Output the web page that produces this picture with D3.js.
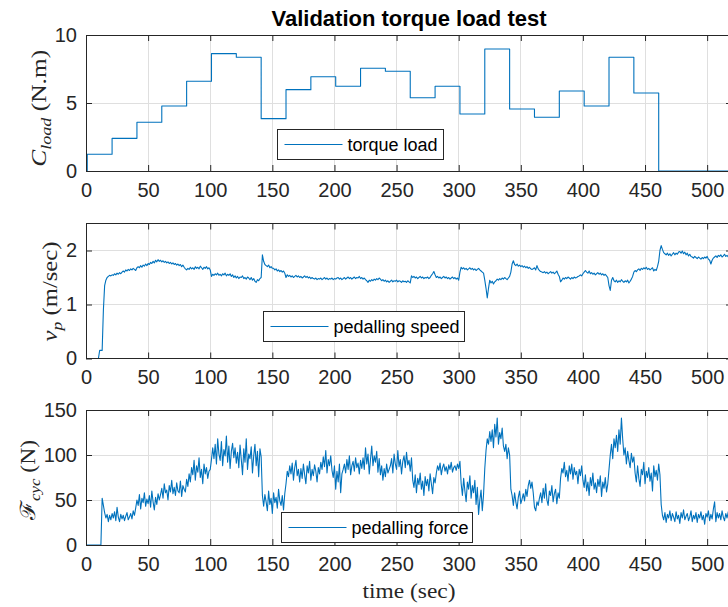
<!DOCTYPE html>
<html><head><meta charset="utf-8">
<script src="https://cdn.jsdelivr.net/npm/d3@7/dist/d3.min.js"></script>
<style>body{margin:0;background:#fff}svg{display:block}</style>
</head><body>
<svg id="chart" width="728" height="607"></svg>
<script>
// ---------------- data ----------------
const chartTitle = "Validation torque load test";
const xLabel = "time (sec)";
const xDomain = [0, 520];
const xTicks = [0, 50, 100, 150, 200, 250, 300, 350, 400, 450, 500];

const torqueTicks = [0, 5, 10];
const speedTicks = [0, 1, 2];
const forceTicks = [0, 50, 100, 150];

const torqueName = "torque load";
const speedName = "pedalling speed";
const forceName = "pedalling force";

// step changes of the load torque (time in s, value in N.m)
const torqueTimes = [0, 1, 21, 41, 61, 81, 101, 121, 141, 161, 181, 201, 221, 241, 261, 281, 301, 321, 341, 361, 381, 401, 421, 441, 461, 520];
const torqueValues = [0, 1.23, 2.4, 3.58, 4.78, 6.6, 8.63, 8.36, 3.85, 5.98, 6.93, 6.23, 7.55, 7.33, 5.39, 6.23, 4.19, 8.97, 4.56, 3.95, 5.88, 4.78, 8.36, 5.74, 0, 0];

// pedalling speed, one sample per second from t = 0
const speedStart = 0, speedStep = 1;
const speedValues = [
0,0,0,0,0,0,0,0,0,0,0,
0.15,0.15,0.15,
0.9,1.35,1.45,1.5,
1.52,1.54,1.53,1.55,1.54,1.57,1.55,1.58,1.56,1.59,1.57,1.6,
1.62,1.6,1.64,1.62,1.65,1.63,1.66,1.64,1.67,1.65,1.63,1.68,
1.7,1.68,1.72,1.69,1.73,1.71,1.75,1.72,
1.76,1.74,1.78,1.76,1.8,1.77,1.82,1.79,1.83,1.8,
1.82,1.79,1.81,1.78,1.8,1.77,1.79,1.76,1.78,1.75,
1.77,1.74,1.76,1.73,1.75,1.72,1.74,1.7,1.73,1.69,1.66,1.64,
1.67,1.65,1.69,1.66,1.68,1.65,1.7,1.67,1.69,1.66,1.71,1.68,1.65,1.69,1.67,1.7,1.66,1.68,
1.64,1.52,1.56,1.54,1.57,
1.55,1.58,1.54,1.56,1.53,1.57,1.55,1.58,1.53,1.56,1.54,1.57,1.52,1.55,
1.5,1.53,1.49,1.52,1.48,1.51,1.5,1.53,1.48,1.5,1.47,1.51,1.49,1.46,1.5,1.45,1.48,1.43,
1.41,1.46,1.44,1.48,1.5,
1.92,1.8,1.74,1.72,1.7,1.73,1.68,1.7,1.67,
1.67,1.64,1.66,1.62,1.64,1.61,1.63,1.6,1.62,1.58,
1.5,1.55,1.52,1.54,1.51,1.53,1.5,1.52,1.54,1.51,1.53,1.5,1.52,1.49,1.51,1.53,1.5,1.52,1.49,1.51,1.48,1.5,
1.48,1.47,1.49,1.46,1.48,1.47,1.49,1.46,1.48,1.5,1.47,1.49,1.46,1.48,1.47,1.49,1.46,1.48,1.47,1.49,1.5,1.47,1.49,1.46,1.48,1.5,1.47,
1.49,1.51,1.48,1.5,1.47,1.49,1.51,1.48,1.5,1.49,1.52,1.48,1.5,1.47,1.49,1.46,1.44,1.41,
1.45,1.43,1.46,1.44,1.47,1.45,1.48,1.46,1.49,1.47,1.44,1.46,1.43,1.45,1.42,1.44,1.41,1.43,1.45,1.42,1.44,1.43,1.45,1.42,1.44,
1.43,1.41,1.44,1.42,1.43,1.41,1.44,1.42,1.4,
1.53,1.5,1.52,1.49,1.51,1.48,1.5,1.52,1.49,1.51,1.48,1.5,1.49,1.51,1.48,1.5,1.54,1.57,
1.61,1.55,
1.5,1.52,1.49,1.51,1.48,1.5,1.52,1.49,1.51,1.48,1.5,1.47,1.49,1.51,1.48,1.5,1.47,1.49,
1.45,1.6,1.69,
1.66,1.68,1.65,1.67,1.64,1.66,1.68,1.65,1.67,1.64,1.66,1.63,1.65,1.67,1.64,1.62,1.6,
1.58,1.45,1.3,1.12,1.3,1.45,1.4,1.43,1.38,1.42,
1.44,1.47,1.45,1.48,1.46,1.49,1.47,1.5,1.48,1.46,1.49,1.52,1.6,
1.75,1.81,
1.74,1.72,1.75,1.71,1.73,1.7,1.72,1.69,1.71,1.68,1.7,1.67,1.69,1.66,1.65,
1.66,1.68,1.64,1.72,1.66,1.63,1.61,1.6,
1.59,1.61,1.58,1.6,1.57,1.59,1.61,1.58,1.6,1.57,1.59,1.62,1.56,1.52,
1.42,1.45,
1.49,1.47,1.5,1.48,1.51,1.49,1.47,1.5,1.48,1.51,1.49,1.5,1.52,1.53,
1.55,1.53,1.57,1.6,1.63,
1.6,1.58,1.62,1.57,1.59,1.56,1.58,1.55,1.57,1.59,1.56,1.58,1.55,1.57,1.54,1.56,1.53,1.5,
1.35,1.26,1.45,1.5,
1.44,1.42,1.45,1.41,1.44,1.42,1.46,1.43,1.41,1.44,1.42,1.45,1.4,1.43,1.47,1.52,
1.6,1.63,1.61,1.64,1.66,1.63,1.67,1.65,1.68,1.66,1.69,1.65,1.67,1.64,1.66,1.68,1.62,1.65,
1.63,1.7,1.8,2.0,2.09,
2.02,1.96,1.94,1.92,1.95,1.91,1.94,1.9,1.93,1.96,1.92,1.95,1.93,1.97,
1.98,1.95,1.99,1.94,1.97,1.92,1.95,1.9,1.93,1.89,1.88,
1.86,1.89,1.87,1.85,1.88,1.86,1.84,1.87,1.85,1.88,1.86,1.89,1.84,1.82,
1.75,1.82,
1.86,1.88,1.9,1.87,1.91,1.89,1.92,1.88,1.9,1.93,1.89,1.91,1.88,1.92,1.9,1.91
];

// pedalling force, one sample per second from t = 0
const forceStart = 0, forceStep = 1;
const forceValues = [
0,0,0,0,0,0,0,0,0,0,0,0,0,
52,44,36,30,34,26,33,
28,35,30,37,27,42,31,26,34,29,
33,27,32,36,28,31,35,29,38,33,
41,50,44,56,40,52,47,58,43,51,
46,55,42,60,48,39,53,45,57,50,
56,63,52,68,58,61,50,66,59,72,
57,64,55,69,60,58,71,54,66,62,
59,73,65,79,70,
86,78,94,72,88,81,97,75,84,68,90,79,86,74,82,
84,95,
108,96,112,90,118,101,94,115,88,106,
99,121,92,110,85,104,113,97,108,91,
103,86,111,95,78,107,92,118,84,101,
96,109,80,99,112,88,104,76,107,98,
55,
43,56,48,38,60,45,52,35,58,47,53,41,62,49,44,55,39,57,
68,82,76,88,
79,91,72,86,94,77,84,70,
85,74,90,78,68,88,80,93,72,84,
77,89,82,70,86,79,
92,84,98,87,105,80,95,88,99,83,
75,88,62,82,70,90,58,79,84,
90,80,95,84,99,78,88,93,82,97,
86,91,79,94,85,
97,84,108,90,101,79,95,110,88,99,
92,104,81,96,
78,88,72,85,76,90,80,84,
88,96,80,101,90,84,105,87,95,79,
93,99,86,103,89,94,82,97,
72,64,78,58,74,67,80,62,71,55,
76,66,73,60,79,68,57,75,69,
80,88,83,91,78,86,90,82,87,79,
89,84,92,81,86,88,83,90,85,93,
68,55,74,60,48,70,62,77,52,66,
58,72,45,64,34,50,61,38,56,
85,105,118,112,126,
115,128,108,134,120,141,112,125,118,130,110,
104,112,96,108,100,
62,
55,44,58,48,40,53,60,46,51,57,
49,62,54,66,
72,63,70,58,
42,38,48,44,52,
58,47,63,52,68,50,44,60,55,66,
48,57,62,46,58,52,
74,85,80,92,76,83,71,88,79,90,
73,86,78,82,68,84,77,88,
72,64,78,60,70,55,75,66,80,62,
69,58,73,65,77,54,70,63,75,59,68,
84,100,112,96,118,
108,122,104,128,112,141,118,
100,108,90,104,94,86,102,92,98,
80,70,88,74,65,84,78,92,68,82,
75,86,71,80,60,88,76,83,72,90,78,
45,
33,28,36,25,34,30,38,27,35,31,
26,37,29,33,24,36,30,39,28,32,
35,27,31,38,26,33,29,36,25,34,
30,37,28,33,23,35,31,38,27,34,
29,40,48,26,36,30,35,28,38,31,
27,35,30,37,29,33,36
];

// ---------------- layout ----------------
const W = 728, H = 607;
const axLeft = 86, axRight = 732;
const lineColor = "#0072BD";
const axisColor = "#262626";
const gridColor = "#dfdfdf";
const sansFont = "'Liberation Sans', Arial, Helvetica, sans-serif";
const serifFont = "'Liberation Serif', 'Times New Roman', serif";

const svg = d3.select("#chart");
svg.append("rect").attr("width", W).attr("height", H).attr("fill", "#fff");

const x = d3.scaleLinear().domain(xDomain).range([axLeft, axRight]);

const panels = [
  {id: "p1", top: 35, bottom: 171, domain: [0, 10], ticks: torqueTicks,
   legend: {x: 277.5, y: 129.5, w: 166, h: 30, name: torqueName},
   ylab: {x: 45.5, cy: 108.3, len: 117, parts: [["C", "italic", 0, 21], ["load", "italic", 5, 15], [" (N.m)", "normal", -5, 21]]},
   line: () => d3.line().curve(d3.curveStepAfter), data: torqueTimes.map((t, i) => [t, torqueValues[i]])},
  {id: "p2", top: 223.5, bottom: 358.5, domain: [0, 2.5], ticks: speedTicks,
   legend: {x: 263.5, y: 311.5, w: 201, h: 30, name: speedName},
   ylab: {x: 57, cy: 291.5, len: 100, parts: [["v", "italic", 0, 21], ["p", "italic", 5, 15], [" (m/sec)", "normal", -5, 21]]},
   line: () => d3.line(), data: speedValues.map((v, i) => [speedStart + i * speedStep, v])},
  {id: "p3", top: 410, bottom: 545, domain: [0, 150], ticks: forceTicks,
   legend: {x: 281.5, y: 512.5, w: 191, h: 30, name: forceName},
   ylab: {x: 35, cy: 480, len: 80, parts: [["\u2131", "normal", 0, 21], ["cyc", "italic", 5, 15], [" (N)", "normal", -5, 21]]},
   line: () => d3.line(), data: forceValues.map((v, i) => [forceStart + i * forceStep, v])}
];

panels.forEach(p => {
  const y = d3.scaleLinear().domain(p.domain).range([p.bottom, p.top]);
  const g = svg.append("g");

  // clip
  svg.append("clipPath").attr("id", "clip-" + p.id)
    .append("rect").attr("x", axLeft).attr("y", p.top).attr("width", axRight - axLeft).attr("height", p.bottom - p.top);

  // grid
  const grid = g.append("g").attr("shape-rendering", "crispEdges");
  grid.selectAll("line.gx").data(xTicks).join("line")
    .attr("x1", d => x(d)).attr("x2", d => x(d)).attr("y1", p.top).attr("y2", p.bottom)
    .attr("stroke", gridColor).attr("stroke-width", 1);
  grid.selectAll("line.gy").data(p.ticks).join("line")
    .attr("x1", axLeft).attr("x2", axRight).attr("y1", d => y(d)).attr("y2", d => y(d))
    .attr("stroke", gridColor).attr("stroke-width", 1);

  // data line
  const lineGen = p.line().x(d => x(d[0])).y(d => y(d[1]));
  g.append("path").datum(p.data)
    .attr("clip-path", "url(#clip-" + p.id + ")")
    .attr("fill", "none").attr("stroke", lineColor).attr("stroke-width", 1.1)
    .attr("stroke-linejoin", "round")
    .attr("d", lineGen);

  // axes (ticks inward)
  const styleAxis = sel => {
    sel.select(".domain").remove();
    sel.selectAll(".tick line").attr("stroke", axisColor);
    sel.selectAll(".tick text").attr("fill", axisColor)
      .attr("font-family", sansFont).attr("font-size", 20);
  };
  g.append("g").attr("transform", `translate(0,${p.bottom})`)
    .call(d3.axisBottom(x).tickValues(xTicks).tickSizeInner(-6).tickSizeOuter(0).tickPadding(11.5).tickFormat(d3.format("d")))
    .call(styleAxis);
  g.append("g").attr("transform", `translate(0,${p.top})`)
    .call(d3.axisTop(x).tickValues(xTicks).tickSizeInner(-6).tickSizeOuter(0).tickFormat(""))
    .call(styleAxis);
  g.append("g").attr("transform", `translate(${axLeft},0)`)
    .call(d3.axisLeft(y).tickValues(p.ticks).tickSizeInner(-6).tickSizeOuter(0).tickPadding(9).tickFormat(d3.format("d")))
    .call(styleAxis);
  g.append("g").attr("transform", `translate(${axRight},0)`)
    .call(d3.axisRight(y).tickValues(p.ticks).tickSizeInner(-6).tickSizeOuter(0).tickFormat(""))
    .call(styleAxis);

  // box
  g.append("rect").attr("x", axLeft).attr("y", p.top)
    .attr("width", axRight - axLeft).attr("height", p.bottom - p.top)
    .attr("fill", "none").attr("stroke", axisColor).attr("stroke-width", 1)
    .attr("shape-rendering", "crispEdges");

  // legend
  const L = p.legend;
  const lg = g.append("g");
  lg.append("rect").attr("x", L.x).attr("y", L.y).attr("width", L.w).attr("height", L.h)
    .attr("fill", "#fff").attr("stroke", axisColor).attr("stroke-width", 1);
  lg.append("line").attr("x1", L.x + 7).attr("x2", L.x + 65)
    .attr("y1", L.y + L.h / 2).attr("y2", L.y + L.h / 2)
    .attr("stroke", lineColor).attr("stroke-width", 1.1);
  lg.append("text").attr("x", L.x + 70).attr("y", L.y + L.h / 2 + 6.5)
    .attr("font-family", sansFont).attr("font-size", 18).attr("fill", "#000")
    .text(L.name);

  // y label
  const yl = p.ylab;
  const t = g.append("text")
    .attr("transform", `translate(${yl.x},${yl.cy}) rotate(-90)`)
    .attr("text-anchor", "middle")
    .attr("font-family", serifFont).attr("fill", axisColor)
    .attr("textLength", yl.len).attr("lengthAdjust", "spacingAndGlyphs");
  yl.parts.forEach(pt => {
    t.append("tspan").attr("font-style", pt[1]).attr("dy", pt[2]).attr("font-size", pt[3]).text(pt[0]);
  });
});

// title
svg.append("text").attr("x", (axLeft + axRight) / 2).attr("y", 26)
  .attr("text-anchor", "middle").attr("font-family", sansFont)
  .attr("font-weight", "bold").attr("font-size", 22).attr("fill", "#000")
  .text(chartTitle);

// x label
svg.append("text").attr("x", (axLeft + axRight) / 2).attr("y", 598)
  .attr("text-anchor", "middle").attr("font-family", serifFont)
  .attr("font-size", 21).attr("fill", axisColor)
  .attr("textLength", 93).attr("lengthAdjust", "spacingAndGlyphs")
  .text(xLabel);
</script>
</body></html>
